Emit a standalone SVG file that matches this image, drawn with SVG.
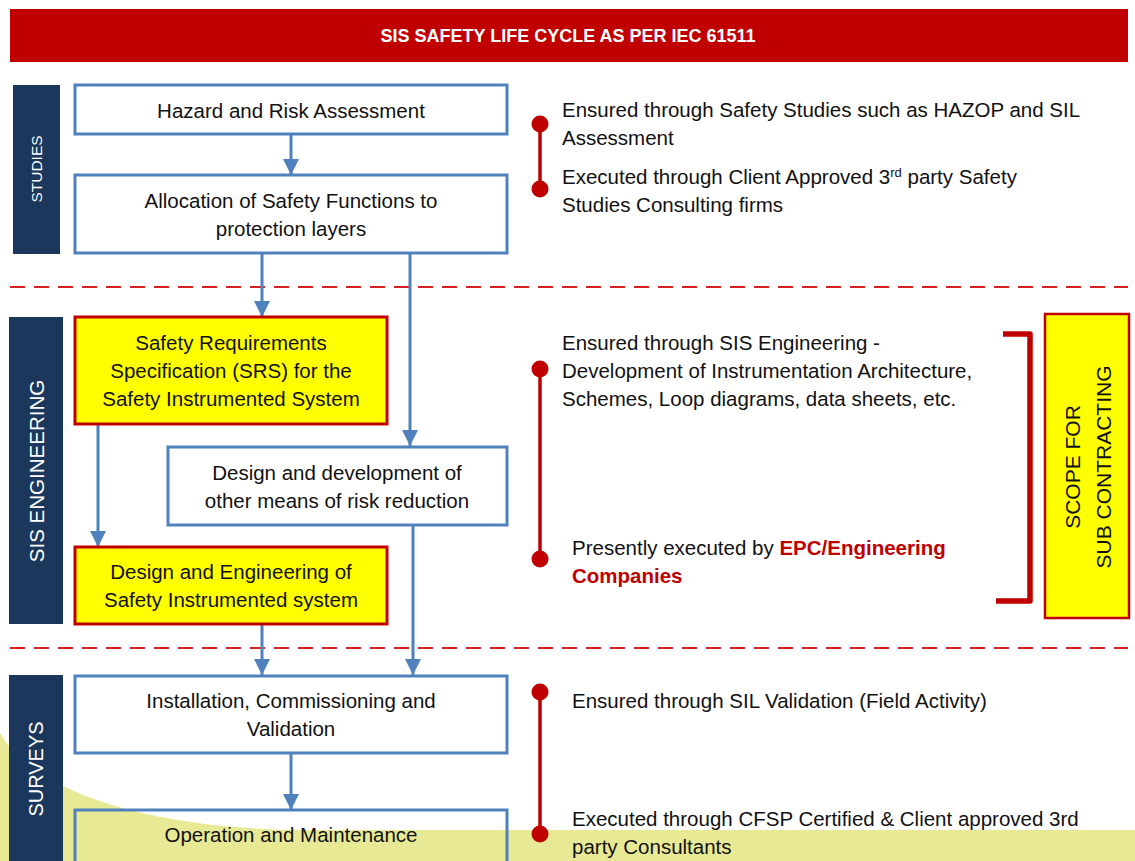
<svg xmlns="http://www.w3.org/2000/svg" width="1135" height="861" viewBox="0 0 1135 861">
<defs>
<style>
.t{font-family:"Liberation Sans",Arial,sans-serif;font-size:20.5px;fill:#111;}
.c{text-anchor:middle;}
.bar{fill:#1B385C;}
.side{font-family:"Liberation Sans",Arial,sans-serif;fill:#fff;text-anchor:middle;}
.wbox{fill:#fff;stroke:#4F81BD;stroke-width:3;}
.obox{fill:none;stroke:#4F81BD;stroke-width:3;}
.ybox{fill:#FFFF00;stroke:#C00000;stroke-width:3;}
.conn{stroke:#4F81BD;stroke-width:3;fill:none;marker-end:url(#ah);}
.dash{stroke:#D42020;stroke-width:2;stroke-dasharray:15 9;fill:none;}
.tl{stroke:#C00000;stroke-width:3.5;}
.dot{fill:#C00000;}
.red{fill:#C00000;font-weight:bold;}
</style>
<marker id="ah" markerUnits="userSpaceOnUse" markerWidth="16" markerHeight="16" refX="16" refY="8" orient="auto">
<path d="M0,0 L16,8 L0,16 Z" fill="#4F81BD"/>
</marker>
</defs>
<rect width="1135" height="861" fill="#fff"/>
<path d="M0,733 C30,785 130,828 300,830 L1135,830 L1135,861 L0,861 Z" fill="#E8E995"/>

<g id="banner">
<rect x="10" y="9" width="1118" height="53" fill="#C00000"/>
<text x="568" y="42" class="c" style="font-family:'Liberation Sans',Arial,sans-serif;font-size:18px;font-weight:bold;fill:#fff">SIS SAFETY LIFE CYCLE AS PER IEC 61511</text>
</g>

<g id="dividers">
<line x1="10" y1="287" x2="1128" y2="287" class="dash"/>
<line x1="10" y1="648" x2="1128" y2="648" class="dash"/>
</g>

<g id="bar-studies">
<rect x="13" y="85" width="47" height="169" class="bar"/>
<text transform="translate(42,169) rotate(-90)" class="side" style="font-size:15.5px">STUDIES</text>
</g>
<g id="bar-engineering">
<rect x="9" y="317" width="54" height="307" class="bar"/>
<text transform="translate(44,471) rotate(-90)" class="side" style="font-size:20.5px">SIS ENGINEERING</text>
</g>
<g id="bar-surveys">
<rect x="9" y="675" width="54" height="186" class="bar"/>
<text transform="translate(43,769) rotate(-90)" class="side" style="font-size:20px">SURVEYS</text>
</g>

<g id="connectors">
<line x1="291" y1="135" x2="291" y2="175" class="conn"/>
<line x1="262" y1="254" x2="262" y2="317" class="conn"/>
<line x1="410" y1="254" x2="410" y2="446" class="conn"/>
<line x1="98" y1="424" x2="98" y2="547" class="conn"/>
<line x1="262" y1="624" x2="262" y2="675" class="conn"/>
<line x1="413" y1="525" x2="413" y2="675" class="conn"/>
<line x1="291" y1="753" x2="291" y2="810" class="conn"/>
</g>

<g id="n-hazard">
<rect x="75" y="85" width="432" height="49" class="wbox"/>
<text x="291" y="118" class="t c">Hazard and Risk Assessment</text>
</g>
<g id="n-allocation">
<rect x="75" y="175" width="432" height="78" class="wbox"/>
<text x="291" y="208" class="t c">Allocation of Safety Functions to</text>
<text x="291" y="236" class="t c">protection layers</text>
</g>
<g id="n-srs">
<rect x="75" y="317" width="312" height="107" class="ybox"/>
<text x="231" y="350" class="t c">Safety Requirements</text>
<text x="231" y="378" class="t c">Specification (SRS) for the</text>
<text x="231" y="406" class="t c">Safety Instrumented System</text>
</g>
<g id="n-other">
<rect x="168" y="447" width="339" height="78" class="wbox"/>
<text x="337" y="480" class="t c">Design and development of</text>
<text x="337" y="508" class="t c">other means of risk reduction</text>
</g>
<g id="n-design">
<rect x="75" y="547" width="312" height="77" class="ybox"/>
<text x="231" y="579" class="t c">Design and Engineering of</text>
<text x="231" y="607" class="t c">Safety Instrumented system</text>
</g>
<g id="n-install">
<rect x="75" y="676" width="432" height="77" class="wbox"/>
<text x="291" y="708" class="t c">Installation, Commissioning and</text>
<text x="291" y="736" class="t c">Validation</text>
</g>
<g id="n-operation">
<rect x="75" y="810" width="432" height="60" class="obox"/>
<text x="291" y="842" class="t c">Operation and Maintenance</text>
</g>

<g id="notes-studies">
<line x1="540" y1="124" x2="540" y2="189" class="tl"/>
<circle cx="540" cy="124" r="8.5" class="dot"/>
<circle cx="540" cy="189" r="8.5" class="dot"/>
<text x="562" y="117" class="t">Ensured through Safety Studies such as HAZOP and SIL</text>
<text x="562" y="145" class="t">Assessment</text>
<text x="562" y="184" class="t">Executed through Client Approved 3<tspan font-size="13" dy="-7">rd</tspan><tspan dy="7"> party Safety</tspan></text>
<text x="562" y="212" class="t">Studies Consulting firms</text>
</g>

<g id="notes-engineering">
<line x1="540" y1="369" x2="540" y2="559" class="tl"/>
<circle cx="540" cy="369" r="8.5" class="dot"/>
<circle cx="540" cy="559" r="8.5" class="dot"/>
<text x="562" y="350" class="t">Ensured through SIS Engineering -</text>
<text x="562" y="378" class="t">Development of Instrumentation Architecture,</text>
<text x="562" y="406" class="t">Schemes, Loop diagrams, data sheets, etc.</text>
<text x="572" y="555" class="t">Presently executed by <tspan class="red">EPC/Engineering</tspan></text>
<text x="572" y="583" class="t red">Companies</text>
</g>

<g id="bracket">
<path d="M1003,334 L1030,334 L1030,601 L996,601" fill="none" stroke="#C00000" stroke-width="5.5" stroke-linejoin="round"/>
</g>
<g id="n-scope">
<rect x="1045" y="314" width="84" height="304" fill="#FFFF00" stroke="#C00000" stroke-width="2.5"/>
<text transform="translate(1080,467) rotate(-90)" class="t c" style="font-size:21px">SCOPE FOR</text>
<text transform="translate(1111,467) rotate(-90)" class="t c" style="font-size:21px">SUB CONTRACTING</text>
</g>

<g id="notes-surveys">
<line x1="540" y1="692" x2="540" y2="834" class="tl"/>
<circle cx="540" cy="692" r="8.5" class="dot"/>
<circle cx="540" cy="834" r="8.5" class="dot"/>
<text x="572" y="708" class="t">Ensured through SIL Validation (Field Activity)</text>
<text x="572" y="826" class="t">Executed through CFSP Certified &amp; Client approved 3rd</text>
<text x="572" y="854" class="t">party Consultants</text>
</g>
</svg>
